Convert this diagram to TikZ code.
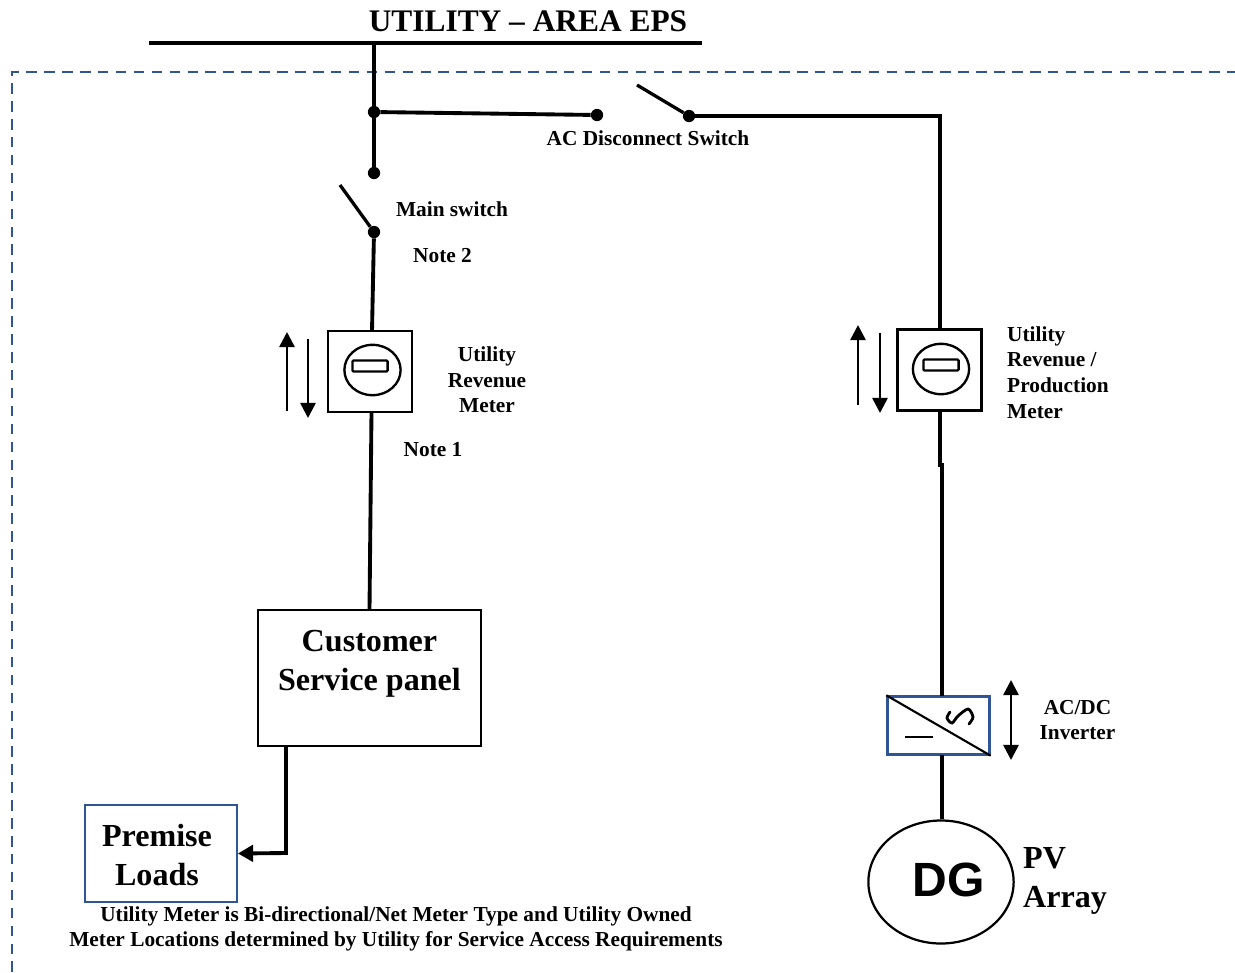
\documentclass[tikz,border=0pt]{standalone}
\usepackage{fontspec}
\setmainfont{Liberation Serif}
\usetikzlibrary{shapes.geometric,arrows.meta}
\definecolor{eblue}{HTML}{2F5597}
\newfontfamily\dgfont{Liberation Sans}
\tikzset{
  wire/.style={line width=3.3pt,line join=miter},
  dot/.style={circle,fill=black,inner sep=0pt,minimum size=10.5pt},
  lbl/.style={font=\fontsize{18.2}{21.9}\selectfont\bfseries,align=center,inner sep=0pt},
  big/.style={font=\fontsize{27.4}{33}\selectfont\bfseries,align=center,inner sep=0pt},
  meter/.style={draw,line width=2pt,minimum width=71.5pt,minimum height=69pt,inner sep=0pt},
  dialface/.style={draw,ellipse,line width=2pt,minimum width=48pt,minimum height=43pt,inner sep=0pt},
  dialslot/.style={draw,rounded corners=1pt,line width=2pt,minimum width=30pt,minimum height=9.5pt,inner sep=0pt},
  updown/.style={line width=2.2pt,-{Triangle[length=13pt,width=13pt]}}
}
\begin{document}
\begin{tikzpicture}[x=0.03cm,y=-0.03cm]
\useasboundingbox (0,0) rectangle (1235,972);

% supply bus
\node[big,font=\fontsize{26.8}{33}\selectfont\bfseries] (title) at (528,21) {UTILITY -- AREA EPS};
\coordinate (busl) at (149,43);
\coordinate (busr) at (702,43);
\coordinate (bustap) at (374,43);
\draw[line width=3.6pt] (busl) -- (busr);

% site boundary
\coordinate (fa) at (12,972);
\coordinate (fb) at (12,72);
\coordinate (fc) at (1235,72);
\draw[eblue,line width=2pt,dash pattern=on 9pt off 6.3pt] (fa) -- (fb) -- (fc);

% left branch
\node[dot] (junc) at (374,112) {};
\node[dot] (mtop) at (374,173) {};
\node[dot] (mbot) at (374,232) {};
\coordinate (marm) at (340,185);
\draw[wire] (bustap) -- (junc) -- (mtop);
\draw[wire,line width=2.8pt] (marm) -- (mbot);
\node[lbl] (mainsw) at (452,209) {Main switch};
\node[lbl] (note2) at (442.5,256) {Note 2};

\node[meter] (meterl) at (370,371.5) {};
\node[dialface] (dial) at (372.5,370) {};
\node[dialslot] (slot) at (370,366) {};
\coordinate (mtap) at (372,331);
\draw[wire] (mbot) -- (mtap);
\coordinate (upa) at (287,411);
\coordinate (upb) at (287,332);
\coordinate (dna) at (308,339);
\coordinate (dnb) at (308,418);
\draw[updown] (upa) -- (upb);
\draw[updown] (dna) -- (dnb);
\node[lbl] (meterltxt) at (487,380) {Utility\\Revenue\\Meter};
\node[lbl] (note1) at (433,450) {Note 1};

\node[draw,line width=1.6pt,minimum width=190.5pt,minimum height=116pt,inner sep=0pt] (panel) at (369.5,678) {};
\node[big] (paneltxt) at (369.5,663.5) {Customer\\Service panel};
\coordinate (mout) at (371.5,412);
\draw[wire] (mout) -- (panel.north);

\node[draw=eblue,line width=1.8pt,minimum width=129.5pt,minimum height=82.5pt,inner sep=0pt] (loads) at (161,853.5) {};
\node[big] (loadstxt) at (157,855) {Premise\\Loads};
\coordinate (pdrop) at (286,746);
\coordinate (pbend) at (286,853);
\draw[wire,-{Triangle[length=13pt,width=14pt]}] (pdrop) -- (pbend) -- (loads.east);

\node[lbl] (foot) at (396,929) {Utility Meter is Bi-directional/Net Meter Type and Utility Owned\\Meter Locations determined by Utility for Service Access Requirements};

% right branch
\node[dot] (acl) at (597,115) {};
\node[dot] (acr) at (689,116) {};
\coordinate (acarm) at (637,85);
\coordinate (accorner) at (940,116);
\draw[wire] (junc) -- (acl);
\draw[wire,line width=2.8pt] (acarm) -- (acr);
\node[lbl] (actxt) at (648,138) {AC Disconnect Switch};

\node[meter] (meterr) at (939.5,370) {};
\node[dialface] (dialr) at (941,369) {};
\node[dialslot] (slotr) at (941,365) {};
\draw[wire] (acr) -- (accorner) -- (meterr.north -| accorner);
\coordinate (upc) at (858,405);
\coordinate (upd) at (858,325);
\coordinate (dnc) at (880,333);
\coordinate (dnd) at (880,413);
\draw[updown] (upc) -- (upd);
\draw[updown] (dnc) -- (dnd);
\node[lbl,align=left,anchor=west] (meterrtxt) at (1007,372.5) {Utility\\Revenue /\\Production\\Meter};

\node[draw=eblue,line width=2pt,minimum width=87pt,minimum height=49.5pt,inner sep=0pt] (inv) at (938.5,725.5) {};
\draw[line width=1.8pt] (inv.north west) -- (inv.south east);
\coordinate (dca) at (905,737);
\coordinate (dcb) at (933,737);
\draw[line width=2pt] (dca) -- (dcb);
\draw[line width=2.4pt,line cap=round] plot[smooth] coordinates {(969,724) (973,717) (968,709) (958,716) (952,723) (947,718) (950,712)};
\coordinate (wa) at (940,465);
\coordinate (wb) at (942,465);
\coordinate (wc) at (942,696);
\draw[wire] (meterr.south -| accorner) -- (wa) -- (wb) -- (wc);
\coordinate (ia) at (1011,680);
\coordinate (ib) at (1011,760);
\draw[line width=2.2pt,{Triangle[length=13pt,width=13pt]}-{Triangle[length=13pt,width=13pt]}] (ia) -- (ib);
\node[lbl] (invtxt) at (1077.5,720) {AC/DC\\Inverter};

\node[draw,ellipse,line width=1.9pt,minimum width=124pt,minimum height=105pt,inner sep=0pt] (dg) at (941,882) {};
\node[font=\fontsize{41}{41}\selectfont\bfseries\dgfont,inner sep=0pt] (dgtxt) at (949,880) {DG};
\coordinate (wd) at (942,755);
\draw[wire] (wd) -- (dg.north -| wd);
\node[big,align=left,anchor=west] (pvtxt) at (1023,881) {PV\\Array};

\end{tikzpicture}
\end{document}
